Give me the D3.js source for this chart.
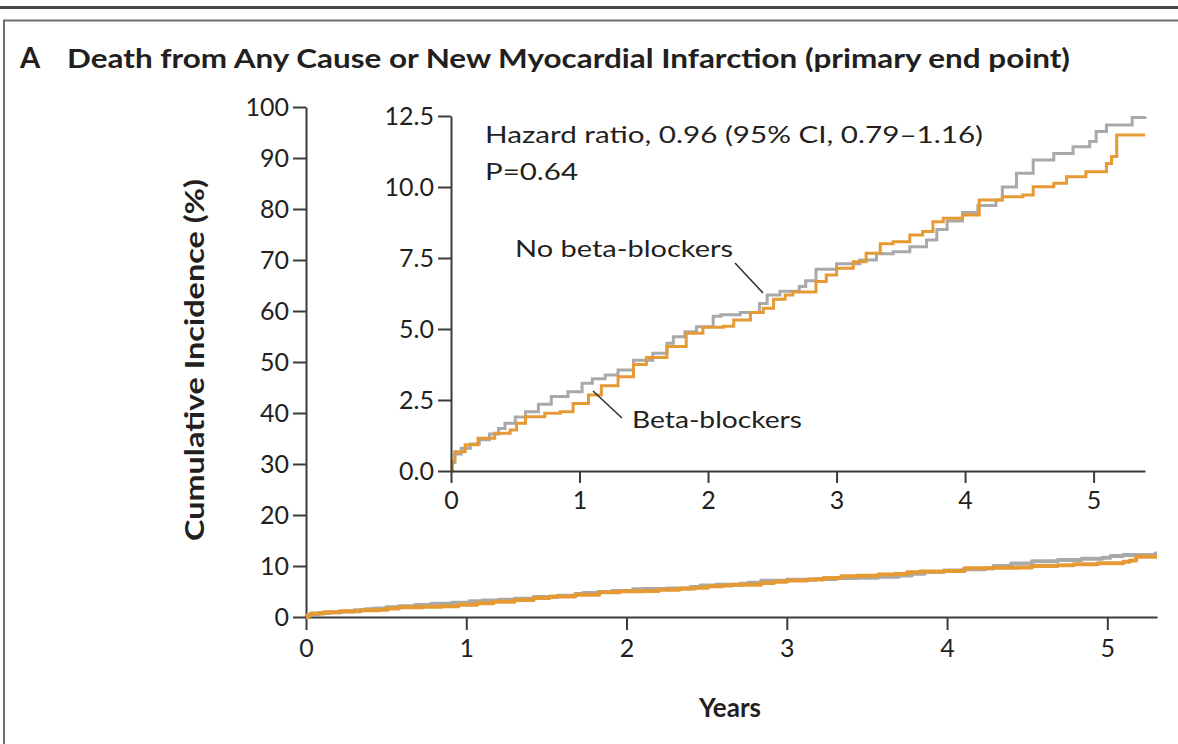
<!DOCTYPE html>
<html>
<head>
<meta charset="utf-8">
<script src="https://cdn.jsdelivr.net/npm/d3@7"></script>
<style>
  body { margin: 0; background: #fff; }
  svg { display: block; font-family: Lato, "Open Sans", sans-serif; }
</style>
</head>
<body>
<script>
const width = 1178;
const height = 744;

// tick values
const yearTicks = [0, 1, 2, 3, 4, 5];
const mainYTicks = [0, 10, 20, 30, 40, 50, 60, 70, 80, 90, 100];
const insetYTicks = [0, 2.5, 5, 7.5, 10, 12.5];

// Kaplan-Meier curves, [years, cumulative incidence %]
const noBetaBlockers = [
    [0, 0], [0.01, 0.3], [0.03, 0.6], [0.08, 0.8], [0.15, 0.95], [0.22, 1.1], [0.3, 1.3],
    [0.37, 1.5], [0.42, 1.68], [0.5, 1.9], [0.58, 2.09], [0.68, 2.35], [0.78, 2.62],
    [0.91, 2.79], [1.02, 3.09], [1.1, 3.25], [1.2, 3.38], [1.3, 3.56], [1.42, 3.9],
    [1.57, 4.15], [1.68, 4.5], [1.73, 4.73], [1.82, 4.9], [1.91, 5.08], [2.04, 5.45],
    [2.1, 5.5], [2.25, 5.58], [2.4, 5.9], [2.46, 6.2], [2.56, 6.33], [2.71, 6.5],
    [2.76, 6.7], [2.84, 7.1], [3.0, 7.3], [3.18, 7.43], [3.31, 7.65], [3.44, 7.72],
    [3.57, 7.9], [3.7, 8.13], [3.78, 8.5], [3.86, 8.8], [3.98, 9.1], [4.1, 9.35],
    [4.24, 9.54], [4.29, 10.0], [4.4, 10.48], [4.53, 10.95], [4.69, 11.18], [4.84, 11.42],
    [4.97, 11.6], [5.02, 11.95], [5.1, 12.18], [5.3, 12.45], [5.4, 12.48]
];
const betaBlockers = [
    [0, 0], [0.01, 0.35], [0.03, 0.68], [0.11, 0.92], [0.21, 1.15], [0.34, 1.33],
    [0.46, 1.44], [0.51, 1.68], [0.58, 1.91], [0.73, 2.03], [0.85, 2.09], [0.95, 2.38],
    [1.07, 2.68], [1.17, 3.0], [1.3, 3.32], [1.42, 3.75], [1.52, 4.0], [1.68, 4.38],
    [1.83, 4.85], [1.96, 5.06], [2.12, 5.1], [2.2, 5.32], [2.33, 5.58], [2.43, 5.73],
    [2.51, 6.05], [2.6, 6.2], [2.66, 6.3], [2.84, 6.67], [2.92, 6.9], [3.0, 7.14],
    [3.13, 7.37], [3.23, 7.67], [3.34, 8.0], [3.44, 8.07], [3.57, 8.31], [3.67, 8.43],
    [3.75, 8.78], [3.83, 8.9], [3.98, 9.01], [4.11, 9.54], [4.29, 9.66], [4.45, 9.72],
    [4.53, 10.01], [4.69, 10.13], [4.79, 10.36], [4.94, 10.54], [5.1, 10.83],
    [5.14, 11.07], [5.18, 11.83], [5.4, 11.83]
];

const grey = "#a9a9ab";
const orange = "#e59a34";
const ink = "#231f20";
const axisColor = "#3c3c3c";

const svg = d3.select('body').append('svg')
    .attr('width', width)
    .attr('height', height);

// panel frame
svg.append('line')
    .attr('x1', 0).attr('x2', width).attr('y1', 7.5).attr('y2', 7.5)
    .attr('stroke', '#4a4a4a').attr('stroke-width', 3);
svg.append('path')
    .attr('d', `M4,${height} V20.5 H${width}`)
    .attr('fill', 'none').attr('stroke', '#6f6f6f').attr('stroke-width', 2);

// title
svg.append('text')
    .attr('x', 20).attr('y', 68)
    .attr('font-size', 29).attr('font-weight', 700).attr('fill', ink)
    .text('A');
svg.append('text')
    .attr('x', 67).attr('y', 68)
    .attr('font-size', 27).attr('font-weight', 700).attr('fill', ink)
    .attr('textLength', 1003).attr('lengthAdjust', 'spacingAndGlyphs')
    .text('Death from Any Cause or New Myocardial Infarction (primary end point)');

// main chart scales
const x = d3.scaleLinear().domain([0, 5.31]).range([306, 1157]);
const y = d3.scaleLinear().domain([0, 100]).range([617, 107]);

// inset scales
const xi = d3.scaleLinear().domain([0, 5.4]).range([451, 1145]);
const yi = d3.scaleLinear().domain([0, 12.5]).range([471, 116]);

function styleAxis(g) {
    g.select('.domain').attr('stroke', axisColor).attr('stroke-width', 2);
    g.selectAll('.tick line').attr('stroke', axisColor).attr('stroke-width', 2);
    g.selectAll('.tick text')
        .attr('fill', ink)
        .style('font-size', '25px')
        .style('font-family', 'Lato, "Open Sans", sans-serif');
}

svg.append('defs').append('clipPath').attr('id', 'main-clip')
    .append('rect')
    .attr('x', x(0)).attr('y', y(100))
    .attr('width', x(5.31) - x(0)).attr('height', y(0) - y(100) + 3);

// main axes
svg.append('g')
    .attr('transform', `translate(${x(0)},0)`)
    .call(d3.axisLeft(y).tickValues(mainYTicks).tickSize(13).tickSizeOuter(0).tickPadding(4))
    .call(styleAxis);

svg.append('g')
    .attr('transform', `translate(0,${y(0)})`)
    .call(d3.axisBottom(x).tickValues(yearTicks).tickFormat(d3.format('d'))
        .tickSize(13).tickSizeOuter(0).tickPadding(9))
    .call(styleAxis);

const mainLine = d3.line()
    .curve(d3.curveStepAfter)
    .x(d => x(d[0]))
    .y(d => y(d[1]));

const mainCurves = svg.append('g').attr('clip-path', 'url(#main-clip)');
mainCurves.append('path')
    .datum(noBetaBlockers)
    .attr('fill', 'none').attr('stroke', grey).attr('stroke-width', 4)
    .attr('stroke-linejoin', 'round')
    .attr('d', mainLine);
mainCurves.append('path')
    .datum(betaBlockers)
    .attr('fill', 'none').attr('stroke', orange).attr('stroke-width', 4)
    .attr('stroke-linejoin', 'round')
    .attr('d', mainLine);

// axis titles
svg.append('text')
    .attr('transform', 'translate(204,360) rotate(-90)')
    .attr('text-anchor', 'middle')
    .attr('font-size', 26).attr('font-weight', 700).attr('fill', ink)
    .attr('textLength', 362).attr('lengthAdjust', 'spacingAndGlyphs')
    .text('Cumulative Incidence (%)');

svg.append('text')
    .attr('x', 730).attr('y', 717)
    .attr('text-anchor', 'middle')
    .attr('font-size', 26).attr('font-weight', 700).attr('fill', ink)
    .text('Years');

// inset
svg.append('rect')
    .attr('x', xi(0)).attr('y', yi(12.5) - 4)
    .attr('width', xi(5.4) - xi(0) + 6).attr('height', yi(0) - yi(12.5) + 4)
    .attr('fill', '#fff');

const insetLine = d3.line()
    .curve(d3.curveStepAfter)
    .x(d => xi(d[0]))
    .y(d => yi(d[1]));

svg.append('path')
    .datum(noBetaBlockers)
    .attr('fill', 'none').attr('stroke', grey).attr('stroke-width', 3)
    .attr('d', insetLine);
svg.append('path')
    .datum(betaBlockers)
    .attr('fill', 'none').attr('stroke', orange).attr('stroke-width', 3)
    .attr('d', insetLine);

svg.append('g')
    .attr('transform', `translate(${xi(0)},0)`)
    .call(d3.axisLeft(yi).tickValues(insetYTicks).tickFormat(d3.format('.1f'))
        .tickSize(13).tickSizeOuter(0).tickPadding(4))
    .call(styleAxis);

svg.append('g')
    .attr('transform', `translate(0,${yi(0)})`)
    .call(d3.axisBottom(xi).tickValues(yearTicks).tickFormat(d3.format('d'))
        .tickSize(12).tickSizeOuter(0).tickPadding(8))
    .call(styleAxis);

// annotations
svg.append('text')
    .attr('x', 485).attr('y', 143)
    .attr('font-size', 24).attr('fill', ink)
    .attr('textLength', 498).attr('lengthAdjust', 'spacingAndGlyphs')
    .text('Hazard ratio, 0.96 (95% CI, 0.79\u20131.16)');
svg.append('text')
    .attr('x', 485).attr('y', 180)
    .attr('font-size', 24).attr('fill', ink)
    .attr('textLength', 93).attr('lengthAdjust', 'spacingAndGlyphs')
    .text('P=0.64');

svg.append('text')
    .attr('x', 515).attr('y', 257)
    .attr('font-size', 24).attr('fill', ink)
    .attr('textLength', 218).attr('lengthAdjust', 'spacingAndGlyphs')
    .text('No beta-blockers');
svg.append('line')
    .attr('x1', 735).attr('y1', 263).attr('x2', 763).attr('y2', 293)
    .attr('stroke', '#333').attr('stroke-width', 1.6);

svg.append('text')
    .attr('x', 632).attr('y', 428)
    .attr('font-size', 24).attr('fill', ink)
    .attr('textLength', 170).attr('lengthAdjust', 'spacingAndGlyphs')
    .text('Beta-blockers');
svg.append('line')
    .attr('x1', 593).attr('y1', 391).attr('x2', 622).attr('y2', 418)
    .attr('stroke', '#333').attr('stroke-width', 1.6);
</script>
</body>
</html>
